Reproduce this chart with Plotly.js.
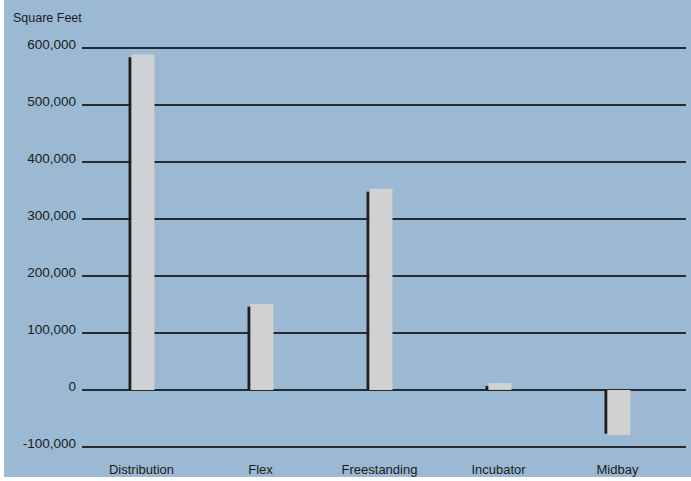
<!DOCTYPE html>
<html>
<head>
<meta charset="utf-8">
<script src="https://cdn.plot.ly/plotly-3.0.1.min.js"></script>
<style>
  html, body { margin: 0; padding: 0; background: #ffffff; }
  #chart { position: absolute; left: 4px; top: 0; width: 687px; height: 481px; }
  #edge-strip { position: absolute; left: 0; top: 477px; width: 691px; height: 4px; background: #ffffff; }
</style>
</head>
<body>
<div id="chart"></div>
<div id="edge-strip"></div>
<script>
// Net change in square feet by property type
const categories = ['Distribution', 'Flex', 'Freestanding', 'Incubator', 'Midbay'];
const squareFeet = [589000, 151000, 353000, 12000, -79000];
const tickValues = [-100000, 0, 100000, 200000, 300000, 400000, 500000, 600000];
const tickLabels = ['-100,000', '0', '100,000', '200,000', '300,000', '400,000', '500,000', '600,000'];

// Dark edge behind each bar: a few pixels shorter on the top for gains
const edgeValues = squareFeet.map(v => v > 0 ? v - 5000 : v + 2000);

const edge = {
  type: 'bar', x: categories, y: edgeValues,
  width: 0.026, offset: -0.109,
  marker: { color: '#1f1f22', line: { width: 0 } },
  hoverinfo: 'skip', showlegend: false
};
const bars = {
  type: 'bar', x: categories, y: squareFeet,
  width: 0.193, offset: -0.084,
  marker: { color: '#d0d1d3', line: { width: 0 } },
  showlegend: false
};

const layout = {
  width: 687, height: 481,
  margin: { l: 78, r: 5, t: 47, b: 33 },
  paper_bgcolor: '#9bb9d3', plot_bgcolor: '#9bb9d3',
  barmode: 'overlay',
  font: { family: 'Liberation Sans, Arial, sans-serif', color: '#1c1c1c' },
  xaxis: {
    type: 'category', range: [-0.5, 4.576],
    showgrid: false, zeroline: false, showline: false, ticks: '',
    tickfont: { size: 13, color: '#1c1c1c' },
    ticklabelstandoff: 12
  },
  yaxis: {
    range: [-102000, 602000], tickmode: 'array',
    tickvals: tickValues, ticktext: tickLabels,
    showgrid: true, gridcolor: '#262b32', gridwidth: 1.3,
    zeroline: true, zerolinecolor: '#262b32', zerolinewidth: 1.3,
    showline: false, ticks: '',
    tickfont: { size: 13.5, color: '#1c1c1c' },
    ticklabelstandoff: 5, ticklabelshift: -4
  },
  annotations: [{
    text: 'Square Feet', xref: 'paper', yref: 'paper',
    x: 0, y: 1, xshift: -71, yshift: 29, xanchor: 'left', yanchor: 'middle',
    showarrow: false, font: { size: 12.5, color: '#1c1c1c' }
  }]
};

Plotly.newPlot('chart', [edge, bars], layout, { displayModeBar: false, staticPlot: true });
</script>
</body>
</html>
